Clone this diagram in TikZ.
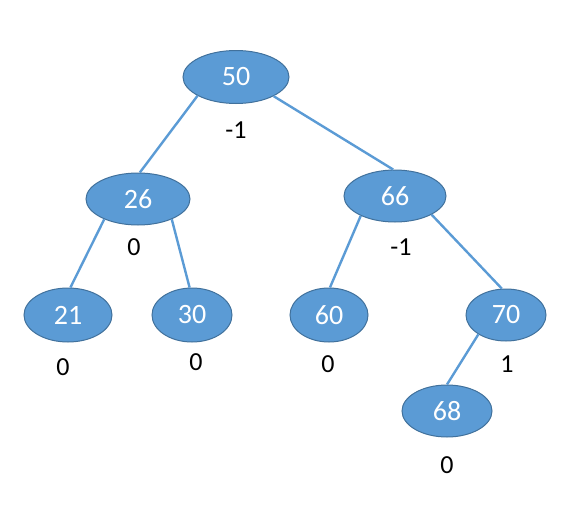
\documentclass[tikz,border=0pt]{standalone}
\usepackage{fontspec}
\setmainfont{Carlito}
\usetikzlibrary{shapes.geometric}
\definecolor{nodefill}{HTML}{5B9BD5}
\definecolor{nodeline}{HTML}{41719C}
\tikzset{
  avl/.style={ellipse, fill=nodefill, draw=nodeline, line width=1pt,
    inner sep=0pt, text=white, font=\fontsize{28}{28}\selectfont},
  bal/.style={font=\fontsize{26}{26}\selectfont, text=black},
  link/.style={draw=nodefill, line width=2.4pt}
}

\begin{document}
\begin{tikzpicture}[x=1pt, y=-1pt]
  \useasboundingbox (0,0) rectangle (581,506);

  \node[avl, minimum width=106pt, minimum height=53pt] (n50) at (236,77) {50};
  \node[avl, minimum width=104pt, minimum height=52pt] (n26) at (138,199) {26};
  \node[avl, minimum width=102pt, minimum height=52pt] (n66) at (395,196) {66};
  \node[avl, minimum width=88pt, minimum height=54pt] (n21) at (68,315) {21};
  \node[avl, minimum width=80pt, minimum height=54pt] (n30) at (192,315) {30};
  \node[avl, minimum width=78pt, minimum height=54pt] (n60) at (329,315) {60};
  \node[avl, minimum width=80pt, minimum height=52pt] (n70) at (506,315) {70};
  \node[avl, minimum width=90pt, minimum height=52pt] (n68) at (447,411) {68};

  %% balance factors
  \node[bal] (b50) at (236,130) {-1};
  \node[bal] (b26) at (134,247) {0};
  \node[bal] (b66) at (401,247) {-1};
  \node[bal] (b21) at (63,367) {0};
  \node[bal] (b30) at (196,362) {0};
  \node[bal] (b60) at (328,364) {0};
  \node[bal] (b70) at (507,364) {1};
  \node[bal] (b68) at (447,465) {0};

  \draw[link] (n50.206) -- (n26.86); %% 50 26
  \draw[link] (n50.333) -- (n66.94); %% 50 66
  \draw[link] (n26.211) -- (n21.85); %% 26 21
  \draw[link] (n26.329) -- (n30.95); %% 26 30
  \draw[link] (n66.210) -- (n60.88); %% 66 60
  \draw[link] (n66.333) -- (n70.99); %% 66 70
  \draw[link] (n70.215) -- (n68.90); %% 70 68

\end{tikzpicture}
\end{document}
